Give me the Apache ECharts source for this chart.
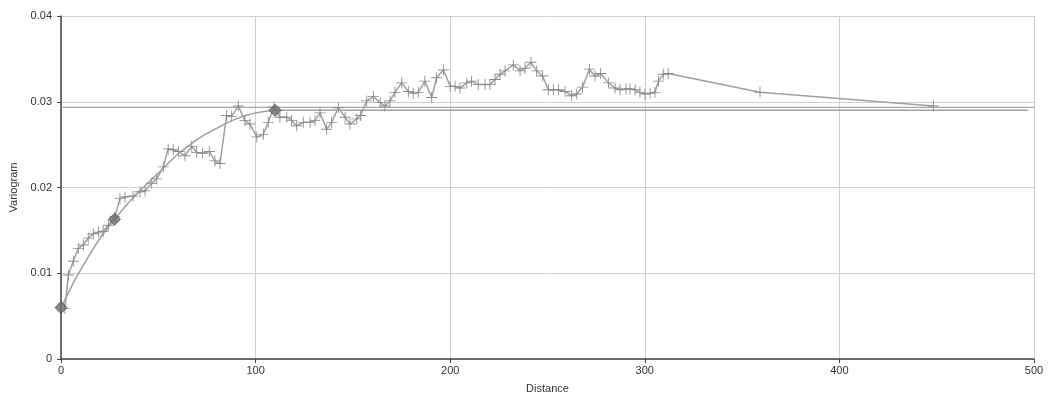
<!DOCTYPE html>
<html>
<head>
<meta charset="utf-8">
<script src="https://cdn.jsdelivr.net/npm/echarts@6/dist/echarts.min.js"></script>
<style>html,body{margin:0;padding:0;background:#fff}#c{width:1049px;height:399px}</style>
</head>
<body>
<div id="c"></div>
<script>
// Experimental variogram: distance, value
const expDist = [2,3.8,6.3,8.9,11.5,14,16.6,19.2,21.7,24.3,27.7,30.3,32.9,37,40.6,43.2,46.6,49.2,52.6,55.1,57.7,60.3,63.7,67.2,69.7,72.8,76.2,79.1,81.7,85.1,87.7,91.1,94.5,97.1,100.6,104,106.5,109.5,112.5,116,118.5,121.1,124.5,128,130.5,133.1,136.5,139.1,142.5,146,148.5,152,154,157.1,160.5,164,166.5,169.1,171.6,175.1,178.5,181,183.6,187,190.5,193,196.5,200,202.5,205,208.5,211,214.4,217.9,220.4,223,225.6,228.2,232.4,235.9,238.4,241.5,244.4,247.5,250.4,253,255.6,259,262.4,265,268,271.5,274.4,277.3,281.3,284.7,287.3,290.4,292.4,295,297.5,300.1,302.7,305.2,307,309.5,312,359.2,448.3];
const expVal = [0.0059,0.0098,0.0114,0.0129,0.0133,0.0141,0.0146,0.0148,0.0149,0.0156,0.0166,0.0187,0.0189,0.0190,0.0195,0.0196,0.0205,0.0210,0.0224,0.0245,0.0244,0.0242,0.0237,0.0248,0.0241,0.0240,0.0242,0.0231,0.0228,0.0284,0.0283,0.0295,0.0278,0.0274,0.0259,0.0262,0.0276,0.0294,0.0282,0.0282,0.0278,0.0272,0.0276,0.0276,0.0278,0.0287,0.0268,0.0276,0.0293,0.0282,0.0274,0.0280,0.0284,0.0301,0.0306,0.0299,0.0295,0.0301,0.0311,0.0322,0.0312,0.0310,0.0311,0.0324,0.0305,0.0328,0.0337,0.0318,0.0318,0.0316,0.0322,0.0324,0.0320,0.0320,0.0320,0.0326,0.0332,0.0336,0.0343,0.0336,0.0339,0.0346,0.0336,0.0330,0.0314,0.0314,0.0314,0.0312,0.0307,0.0309,0.0317,0.0338,0.0330,0.0333,0.0322,0.0316,0.0314,0.0315,0.0315,0.0314,0.0311,0.0309,0.0310,0.0311,0.0324,0.0332,0.0333,0.0311,0.0295];

// Model curve
const modelDist = [0,7.5,15,21,27.5,35,40,45,50,55,60,65,70,75,80,85,90,95,100,105,110,497];
const modelVal = [0.0060,0.0094,0.0123,0.0144,0.0163,0.0183,0.0195,0.0206,0.0217,0.0228,0.0239,0.0248,0.0256,0.0263,0.0269,0.0275,0.0280,0.0284,0.0287,0.0289,0.0290,0.0290];

// Model control points (diamonds)
const ctrlDist = [0,27.5,110];
const ctrlVal = [0.0060,0.0163,0.0290];

// Sample variance line
const varDist = [0,500];
const varVal = [0.02935,0.02935];

// Axis ticks
const xTicks = [0,100,200,300,400,500];
const yTicks = [0,0.01,0.02,0.03,0.04];

const zip = (a,b) => a.map((v,i)=>[v,b[i]]);
const crossPath = 'path://M4.6,0 H5.4 V4.6 H10 V5.4 H5.4 V10 H4.6 V5.4 H0 V4.6 H4.6 Z';

const chart = echarts.init(document.getElementById('c'), null, {renderer:'canvas'});
chart.setOption({
  animation: false,
  textStyle: {fontFamily: 'Liberation Sans, Arial, sans-serif'},
  grid: {left: 61, right: 15, top: 16, bottom: 37, containLabel: false},
  xAxis: {
    type: 'value', min: xTicks[0], max: xTicks[xTicks.length-1], interval: 100,
    name: 'Distance', nameLocation: 'middle', nameGap: 24,
    nameTextStyle: {color: '#333', fontSize: 11},
    axisLine: {show: true, onZero: false, lineStyle: {color: '#444', width: 1.5}},
    axisTick: {show: true, length: 4, lineStyle: {color: '#444'}},
    axisLabel: {color: '#333', fontSize: 11, margin: 6},
    splitLine: {show: true, lineStyle: {color: '#cfcfcf', width: 1}}
  },
  yAxis: {
    type: 'value', min: yTicks[0], max: yTicks[yTicks.length-1], interval: 0.01,
    name: 'Variogram', nameLocation: 'middle', nameGap: 40, nameRotate: 90,
    nameTextStyle: {color: '#333', fontSize: 11},
    axisLine: {show: true, onZero: false, lineStyle: {color: '#444', width: 1.5}},
    axisTick: {show: true, length: 4, lineStyle: {color: '#444'}},
    axisLabel: {color: '#333', fontSize: 11, margin: 9, formatter: v => v === 0 ? '0' : v.toFixed(2)},
    splitLine: {show: true, lineStyle: {color: '#cfcfcf', width: 1}}
  },
  series: [
    {
      type: 'line', data: zip(varDist, varVal), symbol: 'none', silent: true,
      lineStyle: {color: '#a8a8a8', width: 1.2}, z: 1
    },
    {
      type: 'line', data: zip(modelDist, modelVal), symbol: 'none', smooth: false, silent: true,
      lineStyle: {color: '#a0a0a0', width: 1.5}, z: 2
    },
    {
      type: 'line', data: zip(expDist, expVal), symbol: crossPath, symbolSize: 11,
      showAllSymbol: true, smooth: false,
      lineStyle: {color: '#a0a0a0', width: 1.5},
      itemStyle: {color: '#8a8a8a'}, z: 3
    },
    {
      type: 'scatter', data: zip(ctrlDist, ctrlVal), symbol: 'diamond', symbolSize: 12, clip: true,
      itemStyle: {color: '#6e6e6e', borderColor: '#4a4a4a', borderWidth: 1}, z: 4
    }
  ]
});
</script>
</body>
</html>
